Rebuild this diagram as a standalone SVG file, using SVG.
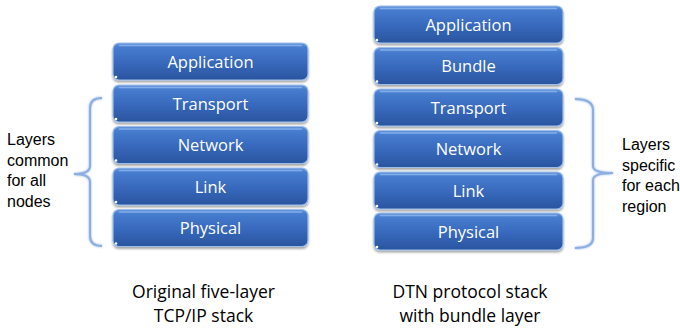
<svg xmlns="http://www.w3.org/2000/svg" width="680" height="328" viewBox="0 0 680 328">
<defs>
<linearGradient id="boxg" x1="0" y1="0" x2="0" y2="1">
<stop offset="0" stop-color="#6697de"/>
<stop offset="0.12" stop-color="#467cce"/>
<stop offset="0.55" stop-color="#3768bb"/>
<stop offset="1" stop-color="#2a559f"/>
</linearGradient>
<filter id="sh" x="-10%" y="-20%" width="120%" height="150%">
<feGaussianBlur in="SourceAlpha" stdDeviation="1.2"/>
<feOffset dx="0" dy="1.5"/>
<feComponentTransfer><feFuncA type="linear" slope="0.35"/></feComponentTransfer>
<feMerge><feMergeNode/><feMergeNode in="SourceGraphic"/></feMerge>
</filter>
<filter id="glow" x="-50%" y="-10%" width="200%" height="120%">
<feGaussianBlur stdDeviation="1"/>
<feMerge><feMergeNode/><feMergeNode in="SourceGraphic"/></feMerge>
</filter>
</defs>
<style>
.box{fill:url(#boxg);stroke:#9dbdea;stroke-width:1.2;filter:url(#sh)}
.hl{fill:none;stroke:#8fb6ee;stroke-width:1.5;opacity:0.8}
.dot{fill:#ffffff}
.lbl{font-family:"Open Sans","Liberation Sans",sans-serif;font-size:16.5px;fill:#ffffff;text-anchor:middle}
.side{font-family:"Liberation Sans",Arial,sans-serif;font-size:16px;fill:#000000}
.title{font-family:"Open Sans","Liberation Sans",sans-serif;font-size:17.5px;fill:#000000;text-anchor:middle}
.brace{fill:none;stroke:#8caee0;stroke-width:2;filter:url(#glow)}
</style>
<rect width="680" height="328" fill="#ffffff"/>

<g id="left-stack">
<g id="l-application"><rect class="box" x="113" y="43" width="195" height="37" rx="6"/><path class="hl" d="M119,45.5 H302"/><circle class="dot" cx="116" cy="77" r="1.3"/><text class="lbl" x="210.5" y="67.5">Application</text></g>
<g id="l-transport"><rect class="box" x="113" y="85" width="195" height="37" rx="6"/><path class="hl" d="M119,87.5 H302"/><circle class="dot" cx="116" cy="119" r="1.3"/><text class="lbl" x="210.5" y="109.5">Transport</text></g>
<g id="l-network"><rect class="box" x="113" y="126.5" width="195" height="37" rx="6"/><path class="hl" d="M119,129 H302"/><circle class="dot" cx="116" cy="160.5" r="1.3"/><text class="lbl" x="210.5" y="151">Network</text></g>
<g id="l-link"><rect class="box" x="113" y="168" width="195" height="37" rx="6"/><path class="hl" d="M119,170.5 H302"/><circle class="dot" cx="116" cy="202" r="1.3"/><text class="lbl" x="210.5" y="192.5">Link</text></g>
<g id="l-physical"><rect class="box" x="113" y="209.5" width="195" height="37" rx="6"/><path class="hl" d="M119,212 H302"/><circle class="dot" cx="116" cy="243.5" r="1.3"/><text class="lbl" x="210.5" y="234">Physical</text></g>
</g>

<g id="right-stack">
<g id="r-application"><rect class="box" x="374" y="6" width="189" height="37" rx="6"/><path class="hl" d="M380,8.5 H557"/><circle class="dot" cx="377" cy="40" r="1.3"/><text class="lbl" x="468.5" y="30.5">Application</text></g>
<g id="r-bundle"><rect class="box" x="374" y="47.5" width="189" height="37" rx="6"/><path class="hl" d="M380,50 H557"/><circle class="dot" cx="377" cy="81.5" r="1.3"/><text class="lbl" x="468.5" y="72">Bundle</text></g>
<g id="r-transport"><rect class="box" x="374" y="89" width="189" height="37" rx="6"/><path class="hl" d="M380,91.5 H557"/><circle class="dot" cx="377" cy="123" r="1.3"/><text class="lbl" x="468.5" y="113.5">Transport</text></g>
<g id="r-network"><rect class="box" x="374" y="130.5" width="189" height="37" rx="6"/><path class="hl" d="M380,133 H557"/><circle class="dot" cx="377" cy="164.5" r="1.3"/><text class="lbl" x="468.5" y="155">Network</text></g>
<g id="r-link"><rect class="box" x="374" y="172" width="189" height="37" rx="6"/><path class="hl" d="M380,174.5 H557"/><circle class="dot" cx="377" cy="206" r="1.3"/><text class="lbl" x="468.5" y="196.5">Link</text></g>
<g id="r-physical"><rect class="box" x="374" y="213" width="189" height="37" rx="6"/><path class="hl" d="M380,215.5 H557"/><circle class="dot" cx="377" cy="247" r="1.3"/><text class="lbl" x="468.5" y="237.5">Physical</text></g>
</g>

<g id="connectors">
<path id="left-brace" class="brace" d="M102,98 Q90,98 90,108 L90,166 Q90,174 74,174 Q90,174 90,182 L90,236 Q90,246 102,246"/>
<path id="right-brace" class="brace" d="M575,99 Q593,99 593,110 L593,166 Q593,173 613,173 Q593,173 593,180 L593,238 Q593,248 575,248"/>
</g>

<g id="left-label">
<text class="side" x="7" y="145">Layers</text>
<text class="side" x="7" y="165.5">common</text>
<text class="side" x="7" y="186">for all</text>
<text class="side" x="7" y="206.5">nodes</text>
</g>
<g id="right-label">
<text class="side" x="622" y="150">Layers</text>
<text class="side" x="622" y="170.5">specific</text>
<text class="side" x="622" y="191">for each</text>
<text class="side" x="622" y="211.5">region</text>
</g>

<g id="left-title">
<text class="title" x="203.5" y="298">Original five-layer</text>
<text class="title" x="203.5" y="322">TCP/IP stack</text>
</g>
<g id="right-title">
<text class="title" x="470" y="298">DTN protocol stack</text>
<text class="title" x="470" y="322">with bundle layer</text>
</g>
</svg>
